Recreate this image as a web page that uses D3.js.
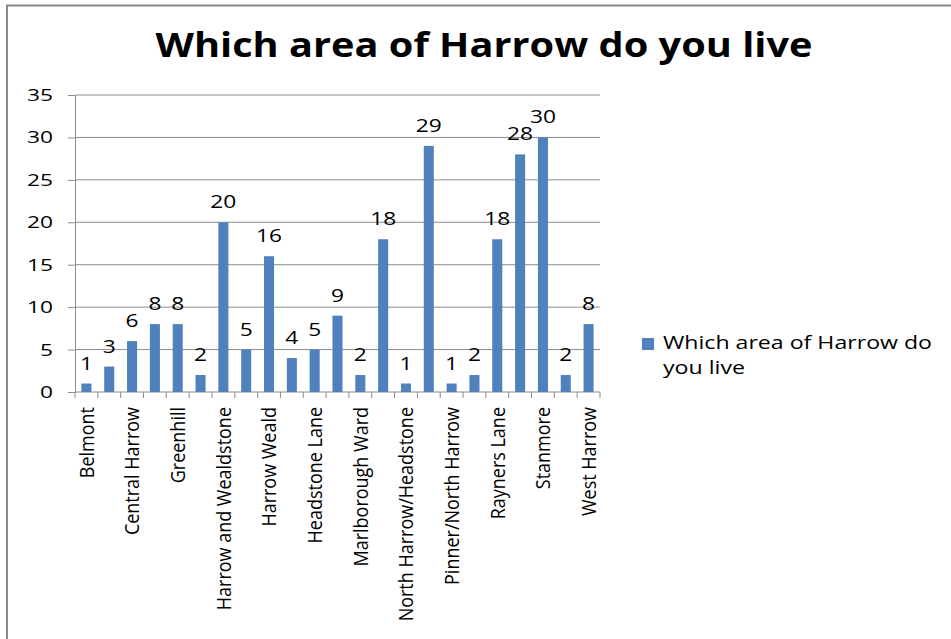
<!DOCTYPE html>
<html lang="en">
<head>
<meta charset="UTF-8">
<title>Which area of Harrow do you live</title>
<style>
  body { margin: 0; background: #fff; }
  text { font-family: "Open Sans", "DejaVu Sans", sans-serif; fill: #000; }
</style>
</head>
<body>
<div id="chart"></div>
<script src="https://cdn.jsdelivr.net/npm/d3@7"></script>
<script>
// areas (only every other one gets a visible label, like the original)
var areas = ["Belmont", "Canons Park", "Central Harrow", "Edgware", "Greenhill", "Harrow",
  "Harrow and Wealdstone", "Harrow on the Hill", "Harrow Weald", "Hatch End", "Headstone Lane",
  "Kenton", "Marlborough Ward", "North Harrow", "North Harrow/Headstone", "Pinner",
  "Pinner/North Harrow", "Queensbury", "Rayners Lane", "Roxeth", "Stanmore", "Wealdstone", "West Harrow"];
var counts = [1, 3, 6, 8, 8, 2, 20, 5, 16, 4, 5, 9, 2, 18, 1, 29, 1, 2, 18, 28, 30, 2, 8];
var yTicks = [0, 5, 10, 15, 20, 25, 30, 35];
var seriesName = "Which area of Harrow do you live";

var W = 951, H = 639;
var plotLeft = 75, plotRight = 600, plotTop = 95, plotBottom = 392;
var DIGIT_W = 13; // the original's digits look stretched sideways

var svg = d3.select("#chart").append("svg")
  .attr("width", W).attr("height", H);

// outer frame, only top and left edges visible
svg.append("path")
  .attr("d", "M7,639 V5.5 H951")
  .attr("fill", "none")
  .attr("stroke", "#8a8a8a")
  .attr("stroke-width", 2);

svg.append("text")
  .attr("x", 484).attr("y", 57)
  .attr("text-anchor", "middle")
  .style("font-size", "34px")
  .style("font-weight", "bold")
  .attr("textLength", 657)
  .attr("lengthAdjust", "spacingAndGlyphs")
  .text(seriesName);

var x = d3.scaleBand().domain(areas).range([plotLeft, plotRight])
  .paddingInner(0.56).paddingOuter(0.28);
var y = d3.scaleLinear().domain([0, 35]).range([plotBottom, plotTop]);

// gridlines
svg.append("g").selectAll("line")
  .data(yTicks.slice(1))
  .enter().append("line")
  .attr("x1", plotLeft).attr("x2", plotRight)
  .attr("y1", d => y(d)).attr("y2", d => y(d))
  .attr("stroke", "#8c8c8c").attr("stroke-width", 1);

// y axis
var yAxis = svg.append("g")
  .attr("transform", "translate(" + plotLeft + ",0)")
  .call(d3.axisLeft(y).tickValues(yTicks).tickSize(7).tickPadding(15));
yAxis.selectAll("path, line").attr("stroke", "#8c8c8c");
yAxis.selectAll("text")
  .style("font-size", "17px")
  .style("font-family", "Open Sans")
  .attr("fill", "#000")
  .attr("textLength", d => String(d).length * DIGIT_W)
  .attr("lengthAdjust", "spacingAndGlyphs");

// x axis: ticks between categories
var bounds = d3.range(areas.length + 1).map(i => plotLeft + i * (plotRight - plotLeft) / areas.length);
var xAxis = svg.append("g");
xAxis.append("line")
  .attr("x1", plotLeft).attr("x2", plotRight)
  .attr("y1", plotBottom).attr("y2", plotBottom)
  .attr("stroke", "#8c8c8c");
xAxis.selectAll(".tk")
  .data(bounds)
  .enter().append("line")
  .attr("class", "tk")
  .attr("x1", d => d).attr("x2", d => d)
  .attr("y1", plotBottom).attr("y2", plotBottom + 6)
  .attr("stroke", "#8c8c8c");

xAxis.selectAll(".lbl")
  .data(areas.filter((d, i) => i % 2 === 0))
  .enter().append("text")
  .attr("class", "lbl")
  .attr("transform", d => "translate(" + (x(d) + x.bandwidth() / 2) + "," + (plotBottom + 15) + ") scale(1.15,1) rotate(-90)")
  .attr("text-anchor", "end")
  .attr("dy", "0.35em")
  .style("font-size", "18px")
  .text(d => d);

// bars
svg.append("g").selectAll("rect")
  .data(counts)
  .enter().append("rect")
  .attr("x", (d, i) => x(areas[i]))
  .attr("y", d => y(d))
  .attr("width", x.bandwidth())
  .attr("height", d => plotBottom - y(d))
  .attr("fill", "#4f81bd");

// value labels
svg.append("g").selectAll("text")
  .data(counts)
  .enter().append("text")
  .attr("x", (d, i) => x(areas[i]) + x.bandwidth() / 2)
  .attr("y", d => y(d) - 14)
  .attr("text-anchor", "middle")
  .style("font-size", "18px")
  .attr("textLength", d => String(d).length * DIGIT_W)
  .attr("lengthAdjust", "spacingAndGlyphs")
  .text(d => d);

// legend
var lg = svg.append("g").attr("transform", "translate(642,338)");
lg.append("rect").attr("width", 12).attr("height", 12).attr("fill", "#4f81bd");
lg.append("text").attr("x", 21).attr("y", 11).style("font-size", "19px")
  .attr("textLength", 269).attr("lengthAdjust", "spacingAndGlyphs")
  .text("Which area of Harrow do");
lg.append("text").attr("x", 21).attr("y", 36).style("font-size", "19px")
  .attr("textLength", 82).attr("lengthAdjust", "spacingAndGlyphs")
  .text("you live");
</script>
</body>
</html>
